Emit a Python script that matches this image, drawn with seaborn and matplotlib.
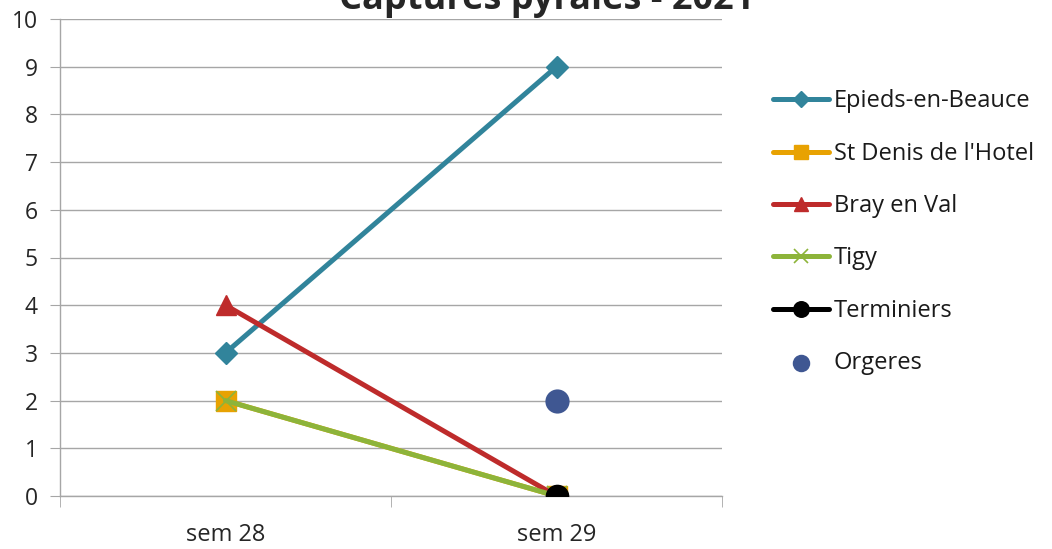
import numpy as np
import pandas as pd
import matplotlib
matplotlib.use('Agg')
import matplotlib.pyplot as plt
import seaborn as sns

# ── data ──────────────────────────────────────────────
weeks = ['sem 28', 'sem 29']
epieds = [3, 9]
st_denis = [2, 0]
bray = [4, 0]
tigy = [2, 0]
terminiers = [np.nan, 0]
orgeres = [np.nan, 2]

series = [
    ('Epieds-en-Beauce', epieds, '#31849B', 'D', 11),
    ("St Denis de l'Hotel", st_denis, '#E8A202', 's', 15),
    ('Bray en Val', bray, '#BE2B2B', '^', 15),
    ('Tigy', tigy, '#8DB43A', 'x', 14),
    ('Terminiers', terminiers, '#000000', 'o', 16),
]

sns.set_style('white')
plt.rcParams['font.family'] = ['Open Sans', 'DejaVu Sans']

fig = plt.figure(figsize=(10.52, 5.49), dpi=100)
ax = fig.add_axes([60 / 1052, 53 / 549, 662 / 1052, 477 / 549])

xpos = np.arange(len(weeks))
for name, vals, col, mk, ms in series:
    df = pd.DataFrame({'x': xpos, 'y': vals}).dropna()
    sns.lineplot(data=df, x='x', y='y', ax=ax, color=col, lw=3.6,
                 marker=mk, markersize=ms, markeredgecolor=col,
                 markeredgewidth=1.2 if mk == 'x' else 1, label=name,
                 zorder=3)

df_o = pd.DataFrame({'x': xpos, 'y': orgeres}).dropna()
sns.scatterplot(data=df_o, x='x', y='y', ax=ax, color='#3F5792', s=260,
                edgecolor='#3F5792', label='Orgeres', zorder=4)

ax.set_xlim(-0.5, 1.5)
ax.set_ylim(0, 10)
ax.set_yticks(range(0, 11))
ax.set_xticks(xpos)
ax.set_xticklabels(weeks)
ax.set_xticks([-0.5, 0.5, 1.5], minor=True)
ax.set_xlabel('')
ax.set_ylabel('')
ax.yaxis.grid(True, color='#A6A6A6', lw=1)
ax.set_axisbelow(True)
for s in ['top', 'right']:
    ax.spines[s].set_visible(False)
for s in ['left', 'bottom']:
    ax.spines[s].set_color('#A6A6A6')
    ax.spines[s].set_linewidth(1)
ax.tick_params(axis='y', which='major', left=True, length=7, color='#A6A6A6',
               labelsize=16.5, pad=9, labelcolor='#262626')
ax.tick_params(axis='x', which='major', bottom=False, labelsize=17, pad=16,
               labelcolor='#262626')
ax.tick_params(axis='x', which='minor', bottom=True, length=8, color='#A6A6A6')

handles, labels = ax.get_legend_handles_labels()
ax.get_legend().remove()
fig.legend(handles, labels, loc='upper left', bbox_to_anchor=(764 / 1052, 1 - 80 / 549),
           frameon=False, fontsize=17, handlelength=2.35, handletextpad=0.2,
           labelspacing=1.2, borderaxespad=0, markerscale=0.7,
           labelcolor='#1a1a1a')

fig.text(547 / 1052, 1 - 9 / 549, 'Captures pyrales - 2021', ha='center',
         va='baseline', fontsize=26, fontweight='bold')

fig.savefig('out.png', dpi=100)
